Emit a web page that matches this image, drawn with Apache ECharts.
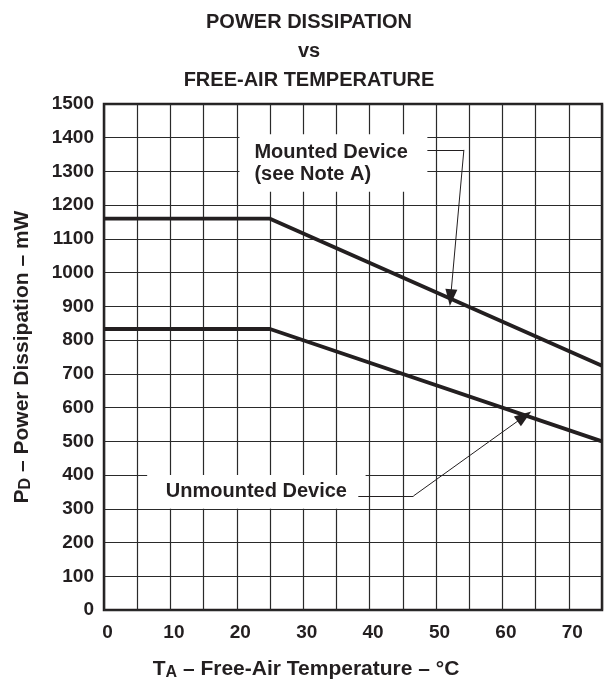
<!DOCTYPE html>
<html><head><meta charset="utf-8">
<script src="https://cdn.jsdelivr.net/npm/echarts@6/dist/echarts.min.js"></script>
<style>html,body{margin:0;padding:0;background:#fff}#c{width:605px;height:679px}</style>
</head><body><div id="c"></div>
<script>
// ---- data ----
const titleLines = ['POWER DISSIPATION', 'vs', 'FREE-AIR TEMPERATURE'];
const mountedTemp = [0, 25, 75];
const mountedPower = [1160, 1160, 724];
const unmountedTemp = [0, 25, 75];
const unmountedPower = [833, 833, 500];
const xTickLabels = [0, 10, 20, 30, 40, 50, 60, 70];
const yTickLabels = [0, 100, 200, 300, 400, 500, 600, 700, 800, 900, 1000, 1100, 1200, 1300, 1400, 1500];
// annotation anchors (data coordinates)
const mountedLabel = ['Mounted Device', '(see Note A)'];
const mountedBox = [[20.4, 1410], [48.7, 1240]];
const mountedLeader = [[48.7, 1364], [54.2, 1364], [52.2, 926]];
const unmountedLabel = 'Unmounted Device';
const unmountedBox = [[6.5, 400], [39.4, 300]];
const unmountedLeader = [[38.3, 338], [46.6, 338], [63.3, 574]];

const INK = '#231f20';
const FONT = '"Liberation Sans", Arial, Helvetica, sans-serif';

function zip(a, b) { return a.map((v, i) => [v, b[i]]); }
function leader(pts) {
  return [
    [{ coord: pts[0], symbol: 'none' }, { coord: pts[1], symbol: 'none' }],
    [{ coord: pts[1], symbol: 'none' }, { coord: pts[2], symbol: 'triangle', symbolSize: [12, 17] }]
  ];
}
const titleRich = {
  m: { fontSize: 21, fontWeight: 'bold', fontFamily: FONT, fill: INK, lineHeight: 24 },
  s: { fontSize: 16, fontWeight: 'bold', fontFamily: FONT, fill: INK, lineHeight: 16, verticalAlign: 'bottom' }
};

const chart = echarts.init(document.getElementById('c'), null, { renderer: 'canvas' });
chart.setOption({
  animation: false,
  backgroundColor: '#fff',
  textStyle: { fontFamily: FONT },
  grid: { left: 104, top: 104, right: -5, bottom: 69, show: true, borderColor: INK, borderWidth: 2.5, backgroundColor: 'transparent' },
  xAxis: {
    type: 'value', min: 0, max: 75, interval: 5,
    axisLine: { show: false }, axisTick: { show: false },
    axisLabel: {
      margin: 13, color: INK, fontSize: 19, fontWeight: 'bold', fontFamily: FONT,
      padding: [0, 0, 0, 7],
      formatter: v => xTickLabels.indexOf(v) >= 0 ? String(v) : ''
    },
    splitLine: { show: true, lineStyle: { color: '#2a2a2a', width: 1.2 } }
  },
  yAxis: {
    type: 'value', min: 0, max: 1500, interval: 100,
    axisLine: { show: false }, axisTick: { show: false },
    axisLabel: {
      margin: 10, color: INK, fontSize: 19, fontWeight: 'bold', fontFamily: FONT,
      formatter: v => yTickLabels.indexOf(v) >= 0 ? String(v) : ''
    },
    splitLine: { show: true, lineStyle: { color: '#2a2a2a', width: 1.2 } }
  },
  series: [
    {
      name: 'Mounted Device', type: 'line', data: zip(mountedTemp, mountedPower),
      symbol: 'none', lineStyle: { color: INK, width: 3.8 }, z: 5,
      markArea: {
        silent: true,
        itemStyle: { color: '#fff', opacity: 1 },
        label: {
          show: true, position: 'insideLeft', distance: 15, color: INK,
          fontSize: 20, fontWeight: 'bold', fontFamily: FONT, lineHeight: 22, align: 'left'
        },
        data: [[{ coord: mountedBox[0], name: mountedLabel.join('\n') }, { coord: mountedBox[1] }]]
      },
      markLine: {
        silent: true, symbol: ['none', 'none'],
        lineStyle: { color: INK, width: 1, type: 'solid' },
        label: { show: false },
        data: leader(mountedLeader)
      }
    },
    {
      name: 'Unmounted Device', type: 'line', data: zip(unmountedTemp, unmountedPower),
      symbol: 'none', lineStyle: { color: INK, width: 3.8 }, z: 5,
      markArea: {
        silent: true,
        itemStyle: { color: '#fff', opacity: 1 },
        label: {
          show: true, position: 'inside', color: INK,
          fontSize: 20, fontWeight: 'bold', fontFamily: FONT
        },
        data: [[{ coord: unmountedBox[0], name: unmountedLabel }, { coord: unmountedBox[1] }]]
      },
      markLine: {
        silent: true, symbol: ['none', 'none'],
        lineStyle: { color: INK, width: 1, type: 'solid' },
        label: { show: false },
        data: leader(unmountedLeader)
      }
    }
  ],
  graphic: [
    ...titleLines.map((t, i) => ({
      type: 'text', x: 309, y: 22 + i * 29,
      style: { text: t, fill: INK, font: 'bold 20px ' + FONT, textAlign: 'center', textVerticalAlign: 'middle' }
    })),
    {
      type: 'text', x: 306, y: 669,
      style: {
        text: '{m|T}{s|A}{m| – Free-Air Temperature – °C}',
        textAlign: 'center', textVerticalAlign: 'middle', rich: titleRich
      }
    },
    {
      type: 'text', x: 22, y: 357, rotation: Math.PI / 2,
      style: {
        text: '{m|P}{s|D}{m| – Power Dissipation – mW}',
        textAlign: 'center', textVerticalAlign: 'middle', rich: titleRich
      }
    }
  ]
});
</script>
</body></html>
